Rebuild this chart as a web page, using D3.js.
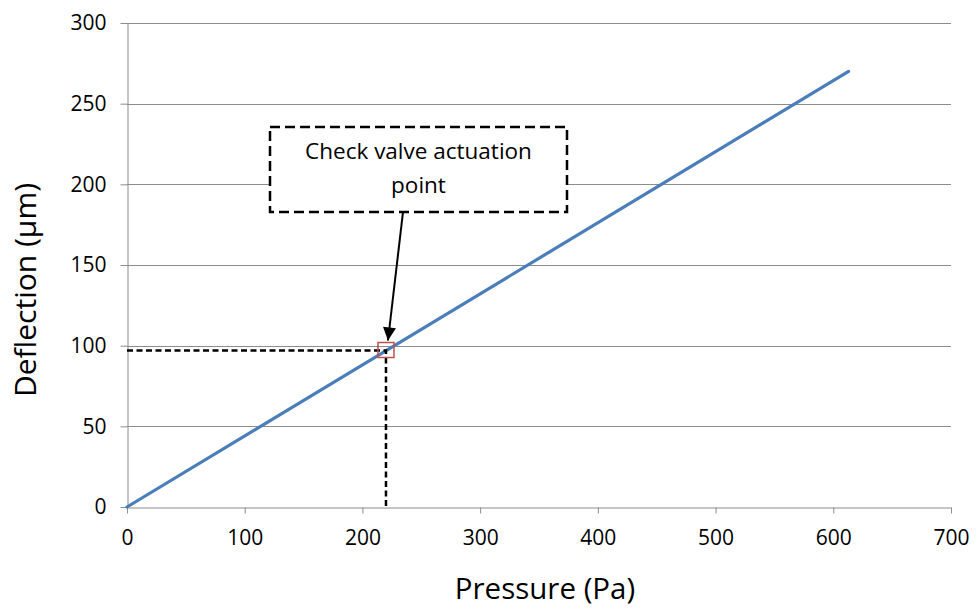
<!DOCTYPE html>
<html>
<head>
<meta charset="utf-8">
<script src="https://cdn.jsdelivr.net/npm/d3@7"></script>
<style>
  html, body { margin: 0; padding: 0; background: #fff; }
  svg { display: block; font-family: "Open Sans", Lato, sans-serif; }
</style>
</head>
<body>
<svg id="chart" width="977" height="608"></svg>
<script>
// Plate deflection vs. applied pressure (linear response)
const pressure = [0, 613];
const deflection = [0, 270];

// Check valve actuation point
const actuationPressure = [220];
const actuationDeflection = [97];

const xTicks = [0, 100, 200, 300, 400, 500, 600, 700];
const yTicks = [0, 50, 100, 150, 200, 250, 300];

const calloutLines = ["Check valve actuation", "point"];
const xTitle = "Pressure (Pa)";
const yTitle = "Deflection (µm)";

const svg = d3.select("#chart");
const margin = { left: 127, right: 26, top: 23, bottom: 101 };
const W = 977, H = 608;
const FONT = "'Open Sans', Lato, sans-serif";

const x = d3.scaleLinear().domain([0, 700]).range([margin.left, W - margin.right]);
const y = d3.scaleLinear().domain([0, 300]).range([H - margin.bottom, margin.top]);

const gridColor = "#8c8c8c";

// Horizontal gridlines
svg.append("g")
  .selectAll("line")
  .data(yTicks.filter(d => d > 0))
  .join("line")
  .attr("x1", x(0)).attr("x2", x(700))
  .attr("y1", d => Math.round(y(d)) + 0.5).attr("y2", d => Math.round(y(d)) + 0.5)
  .attr("stroke", gridColor).attr("stroke-width", 1);

// Y axis
const yAxis = svg.append("g")
  .attr("transform", `translate(${Math.round(x(0)) + 0.5},0)`)
  .call(d3.axisLeft(y).tickValues(yTicks).tickSize(7).tickPadding(14).tickSizeOuter(0));
yAxis.select(".domain").attr("stroke", gridColor);
yAxis.selectAll(".tick line").attr("stroke", gridColor);
yAxis.selectAll(".tick text").attr("font-size", 21).attr("fill", "#000")
  .attr("font-family", FONT);

// X axis
const xAxis = svg.append("g")
  .attr("transform", `translate(0,${Math.round(y(0)) + 0.5})`)
  .call(d3.axisBottom(x).tickValues(xTicks).tickSize(6).tickPadding(17).tickSizeOuter(0));
xAxis.select(".domain").attr("stroke", gridColor);
xAxis.selectAll(".tick line").attr("stroke", gridColor);
xAxis.selectAll(".tick text").attr("font-size", 21).attr("fill", "#000")
  .attr("font-family", FONT);

// Data line
const pts = pressure.map((p, i) => [p, deflection[i]]);
svg.append("path")
  .datum(pts)
  .attr("fill", "none")
  .attr("stroke", "#4a7ebb")
  .attr("stroke-width", 3.2)
  .attr("stroke-linecap", "round")
  .attr("d", d3.line().x(d => x(d[0])).y(d => y(d[1])));

// Dashed guide lines to the actuation point
const ax = x(actuationPressure[0]), ay = y(actuationDeflection[0]);
svg.append("path")
  .attr("d", `M${x(0)},${ay} H${ax} V${y(0)}`)
  .attr("fill", "none")
  .attr("stroke", "#000")
  .attr("stroke-width", 2.5)
  .attr("stroke-dasharray", "6,3.5");

// Marker square
svg.append("rect")
  .attr("x", ax - 8).attr("y", ay - 8)
  .attr("width", 16).attr("height", 15)
  .attr("fill", "none")
  .attr("stroke", "#c0504d")
  .attr("stroke-width", 1.5);

// Callout box
const box = { x: 270, y: 127, w: 297, h: 85 };
svg.append("rect")
  .attr("x", box.x).attr("y", box.y)
  .attr("width", box.w).attr("height", box.h)
  .attr("fill", "#fff")
  .attr("stroke", "#000")
  .attr("stroke-width", 2.5)
  .attr("stroke-dasharray", "10,5");

svg.append("g")
  .selectAll("text")
  .data(calloutLines)
  .join("text")
  .attr("x", box.x + box.w / 2)
  .attr("y", (d, i) => box.y + 32 + i * 34)
  .attr("text-anchor", "middle")
  .attr("font-size", 22.5)
  .attr("fill", "#000")
  .text(d => d);

// Arrow from callout to the point
svg.append("defs").append("marker")
  .attr("id", "arrowhead")
  .attr("viewBox", "0 0 10 10")
  .attr("refX", 10).attr("refY", 5)
  .attr("markerWidth", 15).attr("markerHeight", 13)
  .attr("markerUnits", "userSpaceOnUse")
  .attr("orient", "auto")
  .append("path")
  .attr("d", "M0,0 L10,5 L0,10 Z")
  .attr("fill", "#000");

svg.append("line")
  .attr("x1", 403).attr("y1", box.y + box.h)
  .attr("x2", ax + 2).attr("y2", ay - 10)
  .attr("stroke", "#000")
  .attr("stroke-width", 2)
  .attr("marker-end", "url(#arrowhead)");

// Axis titles
svg.append("text")
  .attr("x", 545)
  .attr("y", 599)
  .attr("text-anchor", "middle")
  .attr("font-size", 29.5)
  .attr("fill", "#000")
  .text(xTitle);

svg.append("text")
  .attr("transform", `translate(36,290) rotate(-90)`)
  .attr("text-anchor", "middle")
  .attr("font-size", 30)
  .attr("fill", "#000")
  .text(yTitle);
</script>
</body>
</html>
